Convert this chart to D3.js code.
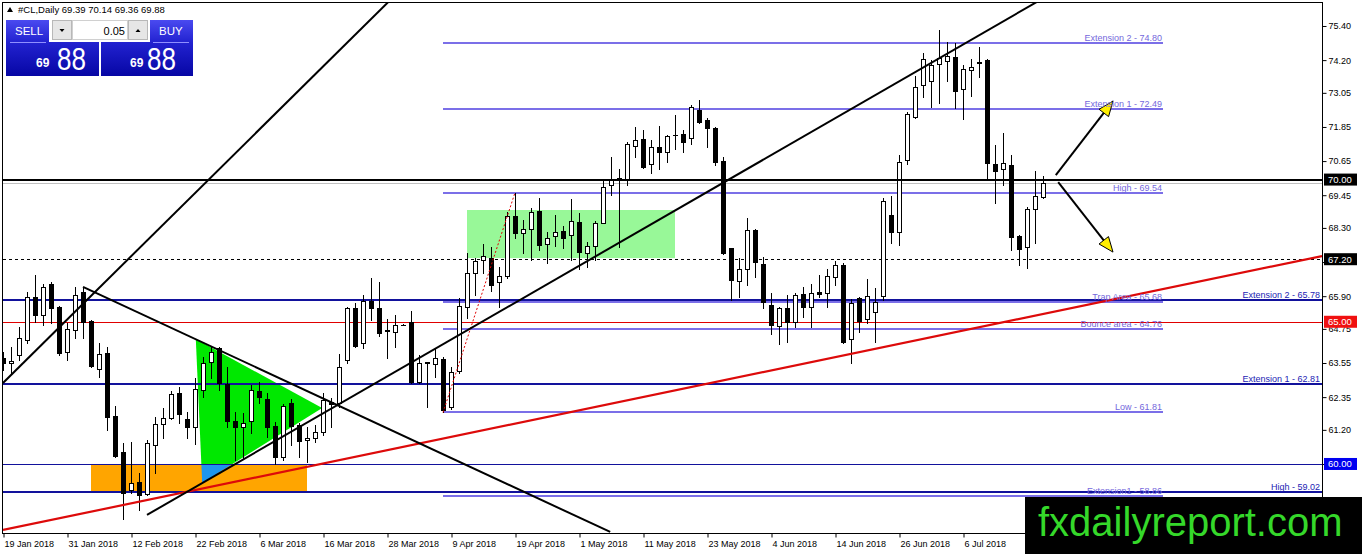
<!DOCTYPE html>
<html><head><meta charset="utf-8">
<script src="https://cdn.jsdelivr.net/npm/d3@7"></script>
<style>
html,body{margin:0;padding:0;background:#fff;overflow:hidden}
svg{display:block;font-family:"Liberation Sans",Arial,sans-serif}
</style></head><body>
<svg id="c" width="1362" height="554"></svg>
<script>
// ---------------- DATA ----------------
const symbolTitle = "#CL,Daily";
const lastOHLC = [69.39, 70.14, 69.36, 69.88];
const lotSize = "0.05";
const bidBig = "88", bidSmall = "69";

const dateLabels = ["19 Jan 2018","31 Jan 2018","12 Feb 2018","22 Feb 2018","6 Mar 2018","16 Mar 2018","28 Mar 2018","9 Apr 2018","19 Apr 2018","1 May 2018","11 May 2018","23 May 2018","4 Jun 2018","14 Jun 2018","26 Jun 2018","6 Jul 2018"];
const dateLabelBars = [0,8,16,24,32,40,48,56,64,72,80,88,96,104,112,120];

const opens = [63.73,63.55,63.83,64.36,65.87,65.24,66.33,65.52,63.94,64.71,66.05,65.03,63.34,63.90,61.69,60.42,59.08,59.37,58.94,60.67,61.41,61.62,62.50,61.58,61.30,62.60,63.59,64.08,62.81,61.51,61.30,61.51,62.57,62.28,61.34,60.24,62.14,61.37,60.84,60.91,61.12,62.18,62.14,63.66,65.49,64.25,65.73,65.49,64.68,64.64,64.89,65.00,62.88,63.55,63.52,63.69,62.00,63.27,65.52,66.71,67.17,67.24,66.40,66.61,68.72,68.12,68.26,68.89,67.73,68.02,68.19,68.05,68.51,67.42,67.66,68.47,69.81,69.98,70.00,71.18,71.43,70.55,71.15,70.97,71.55,71.60,71.46,72.45,72.09,71.81,70.65,67.59,66.43,66.86,68.23,67.03,65.59,64.85,65.49,65.00,65.98,65.52,66.05,66.01,66.57,66.99,64.39,65.84,65.10,65.34,65.91,68.75,68.16,70.69,72.20,73.33,73.47,74.06,74.17,74.31,73.18,73.85,74.10,74.20,70.55,70.37,70.51,68.02,67.63,68.96,69.39];
const highs = [63.94,64.12,64.82,66.05,66.65,66.33,66.40,65.55,64.96,66.23,66.23,65.06,64.25,64.12,62.04,60.74,60.77,59.68,60.84,61.65,61.97,62.57,62.71,61.83,63.02,63.76,64.12,64.12,63.41,61.83,61.79,62.78,62.88,62.50,61.48,62.11,62.28,61.44,61.30,61.37,62.50,62.32,63.87,65.52,65.66,65.94,66.54,66.40,65.10,65.24,64.92,65.38,63.83,63.59,64.08,63.76,63.41,65.84,67.42,67.24,67.73,67.63,66.93,68.86,69.54,68.58,69.00,69.35,68.16,68.75,68.37,69.32,68.82,67.80,68.54,70.02,70.79,70.37,71.32,71.85,71.74,71.39,71.88,71.57,72.27,71.74,72.62,72.80,72.16,71.85,70.79,67.59,67.24,68.65,68.26,67.28,66.01,65.52,65.94,66.01,66.23,66.33,66.65,66.86,67.14,67.07,65.80,65.87,66.50,66.19,69.35,69.42,70.86,72.38,73.64,74.45,74.20,75.26,74.84,74.80,74.03,74.24,74.66,74.24,71.21,71.64,70.86,68.05,69.03,70.30,70.14];
const lows = [63.30,63.20,63.66,64.25,65.00,64.89,64.96,63.83,63.66,64.43,64.43,63.41,63.06,61.20,60.24,58.06,58.98,58.38,58.91,59.68,60.91,61.58,61.44,60.91,60.70,62.36,63.02,62.60,61.30,60.14,60.21,61.09,62.14,60.95,60.00,60.14,60.67,60.24,60.07,60.77,61.02,61.30,62.00,63.55,64.12,64.08,65.06,64.50,63.73,64.12,64.87,62.85,62.85,62.00,63.06,61.81,61.93,63.20,65.13,65.94,66.71,66.08,65.52,66.54,67.95,67.42,67.17,67.52,67.07,67.66,67.59,67.17,66.86,66.93,67.17,68.47,69.46,67.63,69.81,70.79,70.41,70.23,70.37,70.62,71.07,70.97,71.25,71.99,71.15,70.51,67.40,65.77,65.87,66.29,66.57,65.49,64.57,64.22,64.29,64.82,65.17,64.82,65.87,65.52,66.29,64.25,63.55,64.64,64.96,64.29,65.77,67.77,67.70,70.55,72.18,72.90,72.55,72.69,73.47,72.52,72.13,72.94,73.61,70.02,69.18,69.81,67.52,66.99,66.89,67.77,69.36];
const closes = [63.55,63.62,64.43,65.87,65.24,66.23,65.49,63.90,64.75,65.94,65.00,63.44,63.87,61.65,60.28,58.98,59.33,58.91,60.74,61.41,61.62,62.46,61.76,61.30,62.64,63.55,63.94,62.85,61.51,61.30,61.44,62.60,62.36,61.30,60.24,62.04,61.34,60.81,60.91,61.12,62.25,62.11,63.41,65.49,64.15,65.73,65.49,64.60,64.71,64.89,64.89,62.88,63.55,63.58,63.73,61.90,63.23,65.55,66.71,67.14,67.31,66.29,66.61,68.72,68.12,68.26,68.86,67.70,67.95,68.16,67.95,68.54,67.45,67.66,68.47,69.74,69.98,70.05,71.25,71.39,70.44,71.15,70.97,71.53,71.58,71.32,72.55,72.02,71.81,70.62,67.42,66.47,66.86,68.23,67.10,65.70,64.89,65.49,65.00,65.94,65.52,66.01,65.98,66.61,66.99,64.29,65.66,65.03,65.91,65.70,69.25,68.16,70.62,72.30,73.26,74.24,74.03,74.27,74.35,73.11,73.89,73.96,74.13,70.58,70.30,70.58,67.98,67.56,68.96,69.42,69.88];

const priceTicks = [75.40,74.20,73.05,71.85,70.65,69.45,68.30,67.10,65.90,64.75,63.55,62.35,61.20,60.00];

// Fibonacci expansion levels (bar span 55..145)
const fibLevels = [74.80,72.49,69.54,65.68,64.76,61.81,58.86];
const fibNames  = ["Extension 2 - 74.80","Extension 1 - 72.49","High - 69.54","Trap Area - 65.68","Bounce area - 64.76","Low - 61.81","Extension1 - 58.86"];
const fibBars = [55, 145];

// full width horizontal levels
const navyLevels = [65.78, 62.81, 60.00, 59.02];
const navyNames  = ["Extension 2 - 65.78","Extension 1 - 62.81","","High - 59.02"];
const redLevel = 65.00, blackLevel = 70.00, dashedLevel = 67.20, bidLevel = 69.88;

// trend lines [bar, price] pairs
const redTrend   = [[0, 57.68], [164.875, 67.31]];
const steepLine  = [[0, 62.85], [48.4, 76.31]];
const downLine   = [[10, 66.23], [75.9, 57.61]];
const upLine     = [[18, 58.21], [130, 76.37]];
const fibAnchor  = [[55, 61.81], [64, 69.54]];
const arrowUp    = [[131.6, 70.16], [138.75, 72.76]];
const arrowDown  = [[131.9, 69.91], [138.75, 67.45]];

// zones
const orangeZone = [[11, 60.00], [38, 59.05]];
const paleZone   = [[58, 68.93], [84, 67.24]];
const triangle   = [[24.1, 64.39], [24.9, 59.33], [39.9, 61.97]];

// ---------------- DRAW ----------------
const W = 1362, H = 554;
const pL = 3, pR = 1322, pT = 0, pB = 533, barStep = 8;
const svg = d3.select("#c");
const x = d3.scaleLinear().domain([0, (pR - pL) / barStep]).range([pL, pR]);
const y = d3.scaleLinear().domain([57.573, 76.314]).range([pB, pT]);

const defs = svg.append("defs");
defs.append("clipPath").attr("id","plot").append("rect").attr("x",3).attr("y",3).attr("width",pR-3).attr("height",pB-3);
defs.append("clipPath").attr("id","orangeClip").append("rect")
  .attr("x", x(orangeZone[0][0])).attr("y", y(orangeZone[0][1]))
  .attr("width", x(orangeZone[1][0]) - x(orangeZone[0][0]))
  .attr("height", y(orangeZone[1][1]) - y(orangeZone[0][1]));
const g1 = defs.append("linearGradient").attr("id","pg").attr("x1",0).attr("y1",0).attr("x2",0).attr("y2",1);
g1.append("stop").attr("offset","0%").attr("stop-color","#4a4af0");
g1.append("stop").attr("offset","40%").attr("stop-color","#2222d0");
g1.append("stop").attr("offset","100%").attr("stop-color","#0606a4");

const plot = svg.append("g").attr("clip-path","url(#plot)");

// zones
function rectZone(z, fill){
  plot.append("rect").attr("x", x(z[0][0])).attr("y", y(z[0][1]))
    .attr("width", x(z[1][0]) - x(z[0][0])).attr("height", y(z[1][1]) - y(z[0][1]))
    .attr("fill", fill);
}
rectZone(paleZone, "#98f898");
const triPath = d3.line().x(d => x(d[0])).y(d => y(d[1]));
plot.append("path").attr("d", triPath(triangle) + "Z").attr("fill", "#00e800");
rectZone(orangeZone, "#ffa500");
plot.append("path").attr("d", triPath(triangle) + "Z").attr("fill", "#1e96ee").attr("clip-path","url(#orangeClip)");

// horizontal levels
function hline(p, x0, x1, color, w, dash){
  const yy = Math.round(y(p)) + (w % 2 ? 0.5 : 0);
  const l = plot.append("line").attr("x1", x0).attr("x2", x1).attr("y1", yy).attr("y2", yy)
    .attr("stroke", color).attr("stroke-width", w);
  if (dash) l.attr("stroke-dasharray", dash);
  return yy;
}
hline(bidLevel, pL, pR, "#c0c0c0", 1);
hline(dashedLevel, pL, pR, "#000", 1, "3,3");
hline(redLevel, pL, pR, "#e00000", 1);
navyLevels.forEach((p, i) => hline(p, pL, pR, "#12129c", i === 2 ? 1 : 2));
fibLevels.forEach(p => hline(p, x(fibBars[0]), x(fibBars[1]), "#7b6fe8", 2));

// candles
const cg = plot.append("g");
opens.forEach((o, i) => {
  const c = closes[i], hi = highs[i], lo = lows[i];
  const cx = Math.round(x(i)) + 0.5;
  cg.append("line").attr("x1", cx).attr("x2", cx)
    .attr("y1", Math.round(y(hi))).attr("y2", Math.round(y(lo)) + 1)
    .attr("stroke", "#000").attr("stroke-width", 1);
  const top = Math.round(y(Math.max(o, c))), bot = Math.round(y(Math.min(o, c)));
  if (bot - top < 1) {
    cg.append("line").attr("x1", cx - 2.5).attr("x2", cx + 2.5).attr("y1", top + 0.5).attr("y2", top + 0.5)
      .attr("stroke", "#000");
  } else {
    cg.append("rect").attr("x", cx - 2).attr("y", top + 0.5).attr("width", 4).attr("height", bot - top)
      .attr("fill", c >= o ? "#fff" : "#000").attr("stroke", "#000").attr("stroke-width", 1);
  }
});

// black level on top of candles
hline(blackLevel, pL, pR, "#000", 2);

// trend lines
const seg = d3.line().x(d => x(d[0])).y(d => y(d[1]));
plot.append("path").attr("d", seg(fibAnchor)).attr("stroke", "#e00000").attr("stroke-width", 1).attr("stroke-dasharray","2,2").attr("fill","none");
plot.append("path").attr("d", seg(redTrend)).attr("stroke", "#dd0a0a").attr("stroke-width", 2.2).attr("fill","none");
[steepLine, downLine, upLine].forEach(l =>
  plot.append("path").attr("d", seg(l)).attr("stroke", "#000").attr("stroke-width", 2).attr("fill","none"));

// arrows
function arrow(a){
  const x0 = x(a[0][0]), y0 = y(a[0][1]), x1 = x(a[1][0]), y1 = y(a[1][1]);
  const ang = Math.atan2(y1 - y0, x1 - x0), L = 15, hw = 6;
  const bx = x1 - L * Math.cos(ang), by = y1 - L * Math.sin(ang);
  plot.append("line").attr("x1", x0).attr("y1", y0).attr("x2", bx).attr("y2", by)
    .attr("stroke", "#000").attr("stroke-width", 2);
  const pts = [[x1, y1], [bx + hw * Math.sin(ang), by - hw * Math.cos(ang)], [bx - hw * Math.sin(ang), by + hw * Math.cos(ang)]];
  plot.append("polygon").attr("points", pts.map(p => p.join(",")).join(" "))
    .attr("fill", "#ffee00").attr("stroke", "#000").attr("stroke-width", 1);
}
arrow(arrowUp); arrow(arrowDown);

// level labels
const lab = svg.append("g").attr("font-size", 9);
fibLevels.forEach((p, i) => lab.append("text").attr("x", x(fibBars[1]) - 1).attr("y", Math.round(y(p)) - 2)
  .attr("text-anchor", "end").attr("fill", "#7468dc").text(fibNames[i]));
navyLevels.forEach((p, i) => { if (navyNames[i]) lab.append("text").attr("x", pR - 2).attr("y", Math.round(y(p)) - 2)
  .attr("text-anchor", "end").attr("fill", "#1c1cb4").text(navyNames[i]); });

// frame
svg.append("rect").attr("x", 2.5).attr("y", 2.5).attr("width", pR - 2).attr("height", pB - 2)
  .attr("fill", "none").attr("stroke", "#000").attr("stroke-width", 1);

// axes
const yAxis = svg.append("g").attr("transform", `translate(${pR + 0.5},0)`)
  .call(d3.axisRight(y).tickValues(priceTicks).tickSize(4).tickPadding(2).tickFormat(d => d.toFixed(2)));
yAxis.select(".domain").remove();
yAxis.selectAll("text").attr("font-size", 9).attr("font-family", "Liberation Sans, Arial, sans-serif").attr("fill", "#000");
yAxis.selectAll("line").attr("stroke", "#000");

const xAxis = svg.append("g").attr("transform", `translate(0,${pB + 0.5})`)
  .call(d3.axisBottom(x).tickValues(dateLabelBars).tickSize(4).tickFormat((d, i) => dateLabels[i]));
xAxis.select(".domain").remove();
xAxis.selectAll(".tick line").attr("transform", "translate(0.5,0)").attr("stroke", "#000");
xAxis.selectAll("text").attr("text-anchor", "start").attr("x", 1).attr("font-size", 9)
  .attr("font-family", "Liberation Sans, Arial, sans-serif").attr("fill", "#000");

// price boxes on right axis
function priceBox(p, bg){
  const yy = y(p);
  svg.append("rect").attr("x", pR + 2).attr("y", yy - 6).attr("width", 33).attr("height", 12).attr("fill", bg);
  svg.append("text").attr("x", pR + 6).attr("y", yy + 3.5).attr("font-size", 9.5).attr("fill", "#fff").text(p.toFixed(2));
}
priceBox(blackLevel, "#000");
priceBox(dashedLevel, "#000");
priceBox(redLevel, "#f01010");
priceBox(navyLevels[2], "#0000f0");

// title
svg.append("path").attr("d", "M7,12 L10,7 L13,12 Z").attr("fill", "#000");
svg.append("text").attr("x", 18).attr("y", 12.5).attr("font-size", 9.5).attr("fill", "#000")
  .text(symbolTitle + " " + lastOHLC.map(v => v.toFixed(2)).join(" "));

// trade panel
const pn = svg.append("g");
pn.append("rect").attr("x", 6).attr("y", 20).attr("width", 93).attr("height", 56).attr("fill", "url(#pg)");
pn.append("rect").attr("x", 101).attr("y", 20).attr("width", 92).attr("height", 56).attr("fill", "url(#pg)");
pn.append("rect").attr("x", 49).attr("y", 19).attr("width", 101).attr("height", 23).attr("fill", "#fff");
pn.append("rect").attr("x", 52.5).attr("y", 20.5).attr("width", 19).attr("height", 19).attr("fill", "#e6e6e6").attr("stroke", "#b8b8b8");
pn.append("rect").attr("x", 128.5).attr("y", 20.5).attr("width", 19).attr("height", 19).attr("fill", "#e6e6e6").attr("stroke", "#b8b8b8");
pn.append("rect").attr("x", 72.5).attr("y", 20.5).attr("width", 55).attr("height", 19).attr("fill", "#fff").attr("stroke", "#d0d0d0");
pn.append("path").attr("d", "M59.5,29 L64.5,29 L62,32 Z").attr("fill", "#000");
pn.append("path").attr("d", "M135.5,32 L140.5,32 L138,29 Z").attr("fill", "#000");
pn.append("text").attr("x", 125).attr("y", 34.5).attr("text-anchor", "end").attr("font-size", 11).attr("fill", "#000").text(lotSize);
pn.append("text").attr("x", 15).attr("y", 35).attr("font-size", 11.5).attr("fill", "#fff").text("SELL");
pn.append("text").attr("x", 159).attr("y", 35).attr("font-size", 11.5).attr("fill", "#fff").text("BUY");
pn.append("line").attr("x1", 10).attr("x2", 46).attr("y1", 42.5).attr("y2", 42.5).attr("stroke", "#8f8fff");
pn.append("line").attr("x1", 153).attr("x2", 189).attr("y1", 42.5).attr("y2", 42.5).attr("stroke", "#8f8fff");
[[36, 57], [130, 147]].forEach(([sx, bx]) => {
  pn.append("text").attr("x", sx).attr("y", 67).attr("font-size", 12).attr("font-weight", "bold").attr("fill", "#fff").text(bidSmall);
  pn.append("text").attr("x", bx).attr("y", 70).attr("font-size", 32).attr("fill", "#fff")
    .attr("textLength", 29).attr("lengthAdjust", "spacingAndGlyphs").text(bidBig);
});

// watermark
svg.append("rect").attr("x", 1025).attr("y", 497).attr("width", W - 1025).attr("height", H - 497).attr("fill", "#000");
svg.append("text").attr("x", 1038).attr("y", 536).attr("font-size", 40).attr("fill", "#35d82a").text("fxdailyreport.com");
</script>
</body></html>
